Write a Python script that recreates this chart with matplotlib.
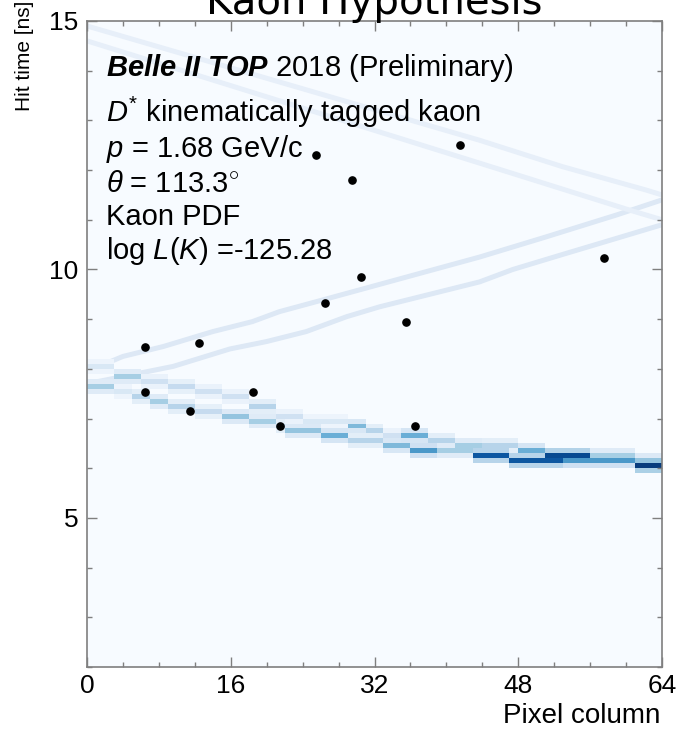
import numpy as np
import matplotlib
matplotlib.use("Agg")
import matplotlib.pyplot as plt
from matplotlib.ticker import MultipleLocator, FixedLocator

# ---------------- data ----------------
# measured photon hits
hit_col = [25.5, 41.5, 29.5, 30.5, 57.5, 6.5, 12.5, 6.5, 11.5, 18.5, 21.5, 26.5, 35.5, 36.5]
hit_time = [12.31, 12.51, 11.81, 9.85, 10.23, 8.43, 8.53, 7.54, 7.15, 7.54, 6.85, 9.33, 8.94, 6.85]

# strong (lower) PDF bands, as horizontal runs of cells: start col, end col, time-bin centre, level
s1_c0 = [0, 3, 6, 9, 12, 15, 18, 21, 24, 26, 29, 31, 33, 35, 38, 41, 44, 48, 51, 56, 61]
s1_c1 = [3, 6, 9, 12, 15, 18, 21, 24, 26, 29, 31, 33, 35, 38, 41, 44, 48, 51, 56, 61, 64]
s1_t = [8.05, 7.85, 7.75, 7.65, 7.55, 7.45, 7.25, 7.05, 6.95, 6.95, 6.85, 6.75, 6.65, 6.65, 6.55,
        6.45, 6.45, 6.35, 6.25, 6.25, 6.15]
s1_lv = [0.15, 0.35, 0.20, 0.25, 0.20, 0.20, 0.30, 0.20, 0.15, 0.15, 0.45, 0.30, 0.20, 0.50, 0.30,
         0.35, 0.30, 0.50, 0.90, 0.35, 0.40]

s2_c0 = [0, 3, 5, 7, 9, 12, 15, 18, 21, 22, 26, 29, 33, 36, 39, 43, 47, 53, 61]
s2_c1 = [3, 5, 7, 9, 12, 15, 18, 21, 22, 26, 29, 33, 36, 39, 43, 47, 53, 61, 64]
s2_t = [7.65, 7.55, 7.45, 7.35, 7.25, 7.15, 7.05, 6.95, 6.85, 6.75, 6.65, 6.55, 6.45, 6.35, 6.35,
        6.25, 6.15, 6.15, 6.05]
s2_lv = [0.35, 0.15, 0.30, 0.35, 0.30, 0.25, 0.40, 0.35, 0.30, 0.40, 0.50, 0.30, 0.45, 0.60, 0.35,
         0.85, 0.85, 0.60, 0.95]

# faint PDF bands (ascending and upper descending), read as (column, time) knots
asc1_x = [0, 4, 8.5, 14, 18.4, 21.4, 26.5, 43.7, 51, 59, 64]
asc1_t = [7.95, 8.25, 8.45, 8.75, 8.95, 9.15, 9.4, 10.25, 10.65, 11.1, 11.4]
asc2_x = [0, 9.6, 15.9, 20, 24.4, 28.9, 32.6, 43.7, 47.4, 52.9, 60.3, 64]
asc2_t = [7.7, 8.05, 8.4, 8.55, 8.75, 9.05, 9.25, 9.75, 10.0, 10.3, 10.7, 10.9]
desc1_x = [0, 43.7, 52.9, 62.2, 64]
desc1_t = [14.9, 12.6, 12.07, 11.6, 11.5]
desc2_x = [0, 43.7, 60.3, 64]
desc2_t = [14.6, 12.14, 11.2, 11.0]

x_ticks = [0, 16, 32, 48, 64]
y_ticks = [5, 10, 15]

# ---------------- styling ----------------
plt.rcParams["font.family"] = ["Liberation Sans", "DejaVu Sans"]
plt.rcParams["mathtext.fontset"] = "custom"
plt.rcParams["mathtext.rm"] = "Liberation Sans"
plt.rcParams["mathtext.it"] = "Liberation Sans:italic"
plt.rcParams["mathtext.bf"] = "Liberation Sans:bold"
plt.rcParams["mathtext.bfit"] = "Liberation Sans:italic:bold"

W, H = 682, 729
fig = plt.figure(figsize=(W / 100, H / 100), dpi=100)
L, R, T, B = 87, 662, 21, 667
ax = fig.add_axes([L / W, 1 - B / H, (R - L) / W, (B - T) / H])

cmap = plt.get_cmap("Blues")
ax.set_facecolor(cmap(0.0))

# histogram grid
t_lo, t_hi, dt = 2.0, 15.0, 0.1
n_rows = int(round((t_hi - t_lo) / dt))
col_edges = np.arange(0, 65)
time_edges = np.linspace(t_lo, t_hi, n_rows + 1)
Z = np.zeros((n_rows, 64))
halo = 0.35
for c0s, c1s, ts, lvs in [(s1_c0, s1_c1, s1_t, s1_lv), (s2_c0, s2_c1, s2_t, s2_lv)]:
    for c0, c1, t, lv in zip(c0s, c1s, ts, lvs):
        r = int(np.floor((t - t_lo) / dt))
        Z[r, c0:c1] = np.maximum(Z[r, c0:c1], lv)
        for rr in (r - 1, r + 1):
            Z[rr, c0:c1] = np.maximum(Z[rr, c0:c1], lv * halo)
Zm = np.ma.masked_where(Z <= 0, Z)

# faint bands
for xs, ts in [(asc1_x, asc1_t), (asc2_x, asc2_t)]:
    ax.plot(xs, ts, color="#dde8f5", lw=3.6, solid_capstyle="butt", zorder=0.5)
for xs, ts in [(desc1_x, desc1_t), (desc2_x, desc2_t)]:
    ax.plot(xs, ts, color="#e7eff9", lw=3.6, solid_capstyle="butt", zorder=0.5)

ax.pcolormesh(col_edges, time_edges, Zm, cmap=cmap, vmin=0, vmax=1, zorder=1)

ax.plot(hit_col, hit_time, "o", color="black", ms=5.2, zorder=3)

ax.set_xlim(0, 64)
ax.set_ylim(2, 15)
ax.xaxis.set_major_locator(FixedLocator(x_ticks))
ax.xaxis.set_minor_locator(MultipleLocator(4))
ax.yaxis.set_major_locator(FixedLocator(y_ticks))
ax.yaxis.set_minor_locator(MultipleLocator(1))
ax.set_xticklabels([str(v) for v in x_ticks])
ax.set_yticklabels([str(v) for v in y_ticks])

spc = "#7f7f7f"
for s in ax.spines.values():
    s.set_color(spc)
    s.set_linewidth(1.2)
ax.tick_params(which="both", direction="in", top=True, right=True, color=spc, width=1.0)
ax.tick_params(which="major", length=7)
ax.tick_params(which="minor", length=3.5)
ax.tick_params(axis="x", which="major", labelsize=19, pad=5)
ax.tick_params(axis="y", which="major", labelsize=19, pad=6)

# axis titles
fig.text(24 / W, 1 - 56 / H, "Hit time [ns]", rotation=90, ha="center", va="center", fontsize=15)
fig.text(660 / W, 1 - 716 / H, "Pixel column", ha="right", va="center", fontsize=20)

# plot title (cut at the top edge)
fig.text((L + R) / 2 / W, 1 - 14 / H, "Kaon Hypothesis", ha="center", va="baseline",
         fontsize=29, family=["DejaVu Sans"])

# annotations
tx = 0.033
fs = 21
ax.text(tx, 0.915, r"$\mathbfit{Belle\ II\ TOP}$ 2018 (Preliminary)", transform=ax.transAxes,
        fontsize=fs, va="baseline")
ax.text(tx, 0.844, r"$D^{*}$ kinematically tagged kaon", transform=ax.transAxes, fontsize=fs, va="baseline")
ax.text(tx, 0.790, r"$p$ = 1.68 GeV/c", transform=ax.transAxes, fontsize=fs, va="baseline")
ax.text(tx, 0.736, r"$\theta$ = 113.3$^{\circ}$", transform=ax.transAxes, fontsize=fs, va="baseline")
ax.text(tx, 0.684, "Kaon PDF", transform=ax.transAxes, fontsize=fs, va="baseline")
ax.text(tx, 0.631, r"log $L$($K$) =-125.28", transform=ax.transAxes, fontsize=fs, va="baseline")

fig.savefig("out.png", dpi=100)
